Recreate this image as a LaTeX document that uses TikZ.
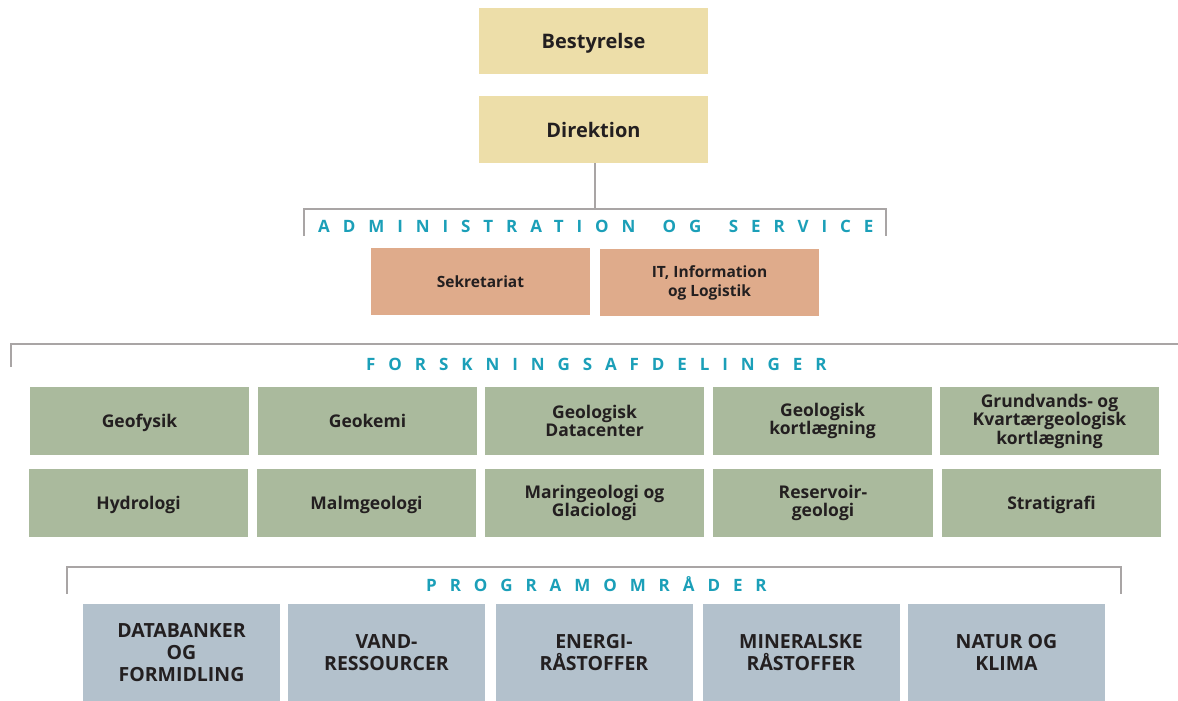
\documentclass[tikz,border=0pt]{standalone}
\usepackage{fontspec}
\setmainfont{Open Sans}
\begin{document}
\begin{tikzpicture}[x=1pt,y=-1pt,
  box/.style={draw=none,inner sep=2pt,align=center,text=txt,font=\bfseries},
  ybox/.style={box,fill=yel,minimum width=229pt,minimum height=66pt,text depth=0pt,font=\fontsize{20}{23}\selectfont\bfseries},
  pbox/.style={box,fill=peach,minimum width=219pt,minimum height=67pt,font=\fontsize{15.5}{19}\selectfont\bfseries},
  gbox/.style={box,fill=grn,minimum width=219pt,minimum height=68pt,font=\fontsize{17.5}{18.5}\selectfont\bfseries},
  one/.style={text depth=0pt},
  bbox/.style={box,fill=blu,minimum width=197pt,minimum height=97pt,font=\fontsize{19.5}{22}\selectfont\bfseries},
  gline/.style={draw=lin,line width=2pt},
  head/.style={anchor=base west,inner sep=0pt,text=teal2,font=\fontsize{17}{19}\selectfont\bfseries\addfontfeature{LetterSpace=76}}
]
\definecolor{yel}{HTML}{EDDEA9}
\definecolor{peach}{HTML}{DFAB8B}
\definecolor{grn}{HTML}{AABA9D}
\definecolor{blu}{HTML}{B3C1CC}
\definecolor{txt}{HTML}{231F20}
\definecolor{lin}{HTML}{A9A5A5}
\definecolor{teal2}{HTML}{1B9FB8}
\useasboundingbox (0,0) rectangle (1178,701);

\node[ybox] (best) at (593.5,41) {Bestyrelse};
\node[ybox,minimum height=67pt] (dir) at (593.5,129.5) {Direktion};

% admin bracket
\coordinate (a1) at (304,236);
\coordinate (a2) at (304,209);
\coordinate (a3) at (886,209);
\coordinate (a4) at (886,236);
\coordinate (am) at (595,209);
\draw[gline] (a1) -- (a2) -- (a3) -- (a4);
\draw[gline] (dir.south -| am) -- (am);
\node[head] (admh) at (318,232) {ADMINISTRATION\hspace{10pt} OG\hspace{10pt} SERVICE};

\node[pbox,one] (sek) at (480.5,281.5) {Sekretariat};
\node[pbox] (it) at (709.5,282.5) {IT, Information\\og Logistik};

% forskning bracket
\coordinate (f1) at (11,367);
\coordinate (f2) at (11,344);
\coordinate (f3) at (1178,344);
\draw[gline] (f1) -- (f2) -- (f3);
\node[head] (forh) at (366,370) {FORSKNINGSAFDELINGER};

\node[gbox,one] (g1) at (139.5,421) {Geofysik};
\node[gbox,one] (g2) at (367.5,421) {Geokemi};
\node[gbox] (g3) at (594.5,421) {Geologisk\\Datacenter};
\node[gbox] (g4) at (822.5,421) {Geologisk\\kortlægning};
\node[gbox] (g5) at (1049.5,421) {Grundvands- og\\Kvartærgeologisk\\kortlægning};
\node[gbox,one] (h1) at (138.5,503) {Hydrologi};
\node[gbox,one] (h2) at (366.5,503) {Malmgeologi};
\node[gbox] (h3) at (594.5,503) {Maringeologi og\\Glaciologi};
\node[gbox,minimum width=220pt] (h4) at (823,503) {Reservoir-\\geologi};
\node[gbox,one] (h5) at (1051.5,503) {Stratigrafi};

% program bracket
\coordinate (p1) at (67,594);
\coordinate (p2) at (67,567);
\coordinate (p3) at (1121,567);
\coordinate (p4) at (1121,594);
\draw[gline] (p1) -- (p2) -- (p3) -- (p4);
\node[head] (progh) at (426,591) {PROGRAMOMRÅDER};

\node[bbox] (b1) at (181.5,652.5) {DATABANKER\\OG\\FORMIDLING};
\node[bbox] (b2) at (386.5,652.5) {VAND-\\RESSOURCER};
\node[bbox] (b3) at (594,652.5) {ENERGI-\\RÅSTOFFER};
\node[bbox] (b4) at (801,652.5) {MINERALSKE\\RÅSTOFFER};
\node[bbox] (b5) at (1006.5,652.5) {NATUR OG\\KLIMA};
\end{tikzpicture}
\end{document}
